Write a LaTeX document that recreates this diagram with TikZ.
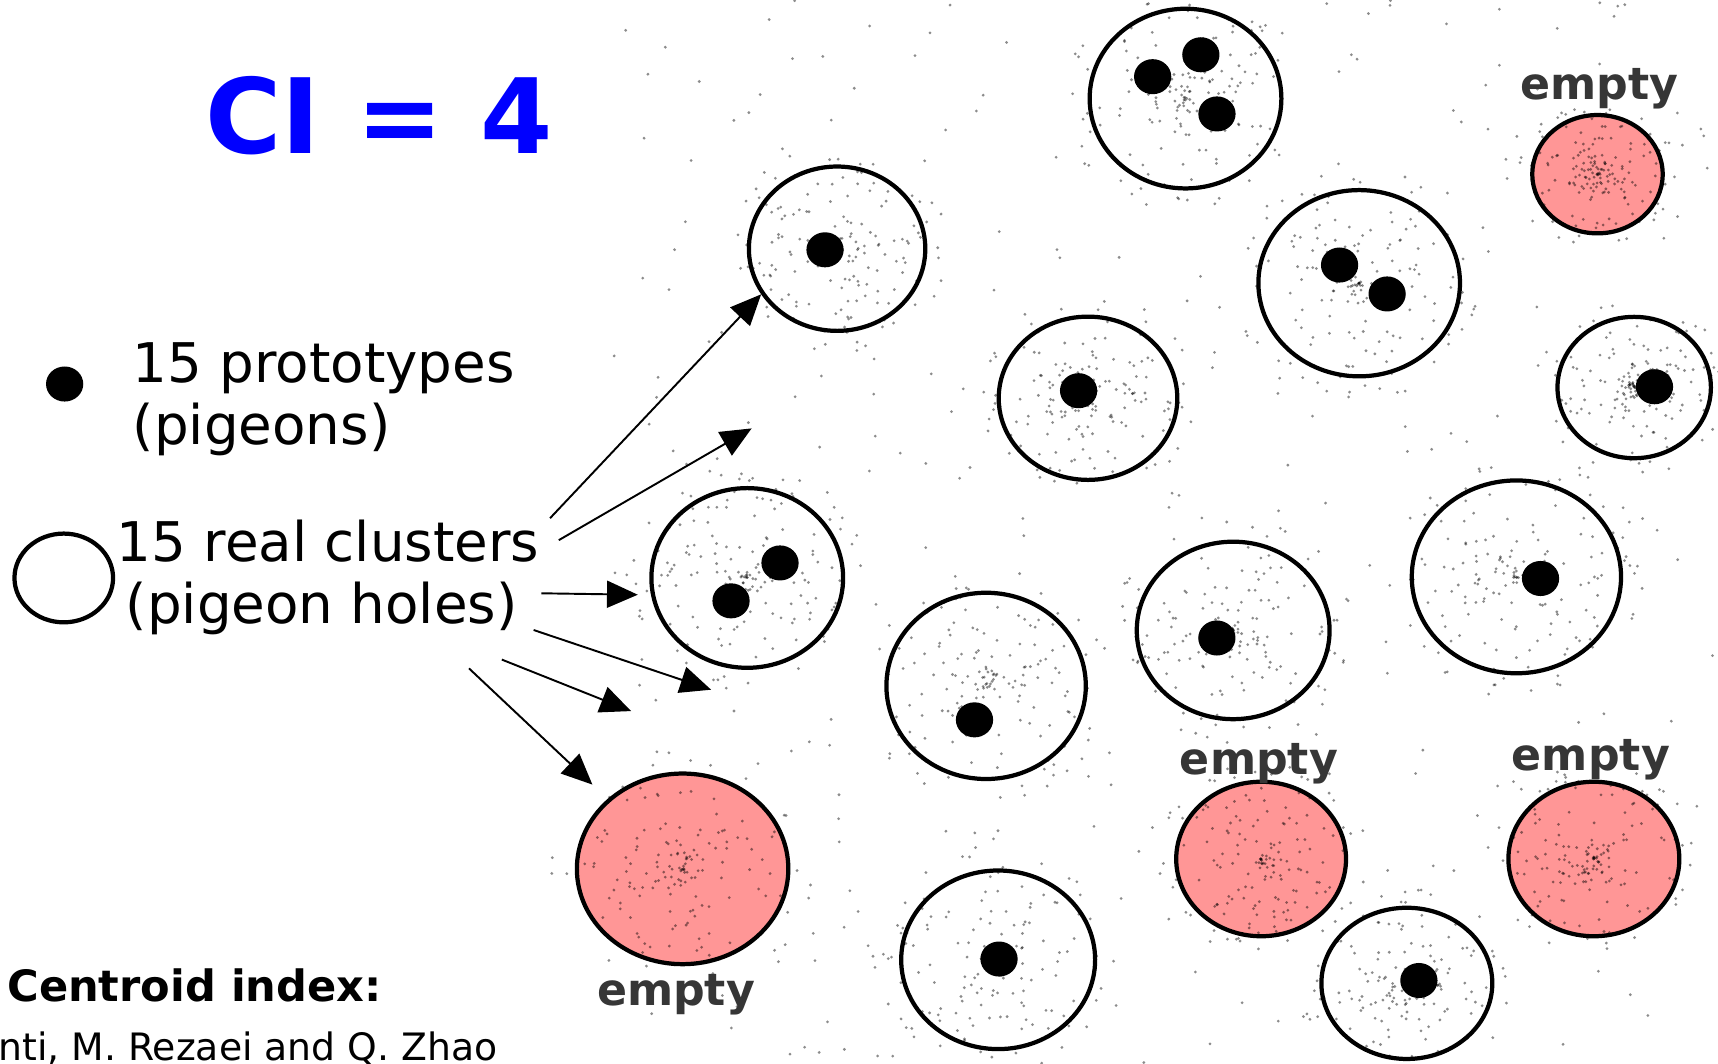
\documentclass[tikz,border=0pt]{standalone}
\usepackage{fontspec}
\setmainfont{DejaVu Sans}
\usetikzlibrary{shapes.geometric,positioning,calc,arrows.meta}
\definecolor{ciblue}{HTML}{0000FF}
\definecolor{emptyred}{HTML}{FF9696}
\definecolor{labelgray}{HTML}{363636}

% scatter of data points round a cluster: node, rx, ry, count
\newcommand{\specks}[4]{%
  \foreach \k in {1,...,#4}{%
    \pgfmathsetmacro{\ang}{360*rnd}%
    \pgfmathsetmacro{\rr}{1.25*rnd}%
    \fill[speck] ($(#1)+({#2*\rr*cos(\ang)},{#3*\rr*sin(\ang)})$) circle (0.4pt);
  }}

\begin{document}
\begin{tikzpicture}[
    hole/.style={ellipse, draw, line width=1.1pt, fill=white, inner sep=0pt},
    emptyhole/.style={hole, fill=emptyred},
    holesize/.style 2 args={minimum width=#1cm, minimum height=#2cm},
    pigeon/.style={ellipse, fill=black, inner sep=0pt,
                   minimum width=3.4mm, minimum height=3.2mm},
    speck/.style={fill=black, fill opacity=0.45},
    pointer/.style={-{Triangle[length=8pt,width=7pt]}, line width=0.5pt},
    legendtxt/.style={font=\fontsize{14.2}{16.2}\selectfont, align=left,
                      inner sep=0pt, anchor=base west},
    emptylbl/.style={font=\fontsize{11.5}{13}\selectfont\bfseries,
                     text=labelgray, inner sep=0pt, anchor=base},
  ]
  \path[fill=white, use as bounding box] (0,0) rectangle (15.68,-9.71);
  \pgfmathsetseed{4242}

  % loose points in the background
  \foreach \k in {1,...,380}{
    \fill[speck] ({5.6+10.08*rnd},{-9.71*rnd}) circle (0.4pt);
  }

  % title and legend
  \node[font=\fontsize{27}{30}\selectfont\bfseries, text=ciblue,
        inner sep=0pt, anchor=base west] (ci) at (1.87,-1.405) {CI = 4};
  \node[pigeon] (keypigeon) at (0.59,-3.505) {};
  \node[legendtxt] (protolbl) at (1.205,-4.06) {15 prototypes\\(pigeons)};
  \node[hole, holesize={0.90}{0.81}] (keyhole) at (0.582,-5.275) {};
  \node[legendtxt] (holeslbl) at (1.06,-5.695)
    {15 real clusters\\\hspace{2.3pt}(pigeon holes)};
  \node[font=\fontsize{11.2}{13}\selectfont\bfseries, inner sep=0pt,
        anchor=base west] (cilbl) at (0.06,-9.14) {Centroid index:};
  \node[font=\fontsize{9.8}{12}\selectfont, inner sep=0pt,
        anchor=base west] (authors) at (-0.02,-9.68) {nti, M. Rezaei and Q. Zhao};

  % real clusters
  \node[hole, holesize={1.61}{1.50}] (cA) at (7.64,-2.27) {};
  \node[hole, holesize={1.75}{1.64}] (cB) at (10.82,-0.90) {};
  \node[hole, holesize={1.84}{1.70}] (cC) at (12.405,-2.585) {};
  \node[hole, holesize={1.63}{1.49}] (cD) at (9.93,-3.635) {};
  \node[hole, holesize={1.40}{1.29}] (cE) at (14.915,-3.537) {};
  \node[hole, holesize={1.75}{1.64}] (cF) at (6.82,-5.275) {};
  \node[hole, holesize={1.91}{1.76}] (cG) at (13.84,-5.265) {};
  \node[hole, holesize={1.76}{1.62}] (cH) at (11.255,-5.754) {};
  \node[hole, holesize={1.82}{1.70}] (cI) at (9.00,-6.26) {};
  \node[hole, holesize={1.77}{1.63}] (cJ) at (9.11,-8.76) {};
  \node[hole, holesize={1.56}{1.38}] (cK) at (12.84,-8.975) {};
  \node[emptyhole, holesize={1.19}{1.08}] (eA) at (14.58,-1.59) {};
  \node[emptyhole, holesize={1.93}{1.74}] (eB) at (6.23,-7.93) {};
  \node[emptyhole, holesize={1.55}{1.41}] (eC) at (11.51,-7.84) {};
  \node[emptyhole, holesize={1.56}{1.41}] (eD) at (14.547,-7.84) {};

  \foreach \c/\rx/\ry in {cA/0.82/0.76, cB/0.88/0.82, cC/0.92/0.85,
      cD/0.82/0.75, cE/0.70/0.65, cF/0.88/0.82, cG/0.96/0.88,
      cH/0.88/0.82, cI/0.91/0.85, cJ/0.88/0.82, cK/0.78/0.70,
      eA/0.60/0.55, eB/0.97/0.88, eC/0.78/0.71, eD/0.78/0.71}{
    \specks{\c}{\rx}{\ry}{160}
  }

  % prototypes
  \node[pigeon] (pA) at (7.53,-2.28) {};
  \node[pigeon] (pB1) at (10.52,-0.70) {};
  \node[pigeon] (pB2) at (10.96,-0.50) {};
  \node[pigeon] (pB3) at (11.107,-1.04) {};
  \node[pigeon] (pC1) at (12.226,-2.419) {};
  \node[pigeon] (pC2) at (12.66,-2.683) {};
  \node[pigeon] (pD) at (9.844,-3.566) {};
  \node[pigeon] (pE) at (15.10,-3.53) {};
  \node[pigeon] (pF1) at (7.119,-5.138) {};
  \node[pigeon] (pF2) at (6.672,-5.484) {};
  \node[pigeon] (pG) at (14.06,-5.28) {};
  \node[pigeon] (pH) at (11.106,-5.823) {};
  \node[pigeon] (pI) at (8.894,-6.57) {};
  \node[pigeon] (pJ) at (9.118,-8.753) {};
  \node[pigeon] (pK) at (12.95,-8.949) {};

  % empty holes
  \node[emptylbl] (lA) at (14.60,-0.91) {empty};
  \node[emptylbl] (lB) at (6.17,-9.18) {empty};
  \node[emptylbl] (lC) at (11.49,-7.07) {empty};
  \node[emptylbl] (lD) at (14.52,-7.03) {empty};

  % arrows from the legend
  \coordinate (s1) at (5.02,-4.73);
  \coordinate (s2) at (5.10,-4.93);
  \coordinate (s3) at (4.94,-5.415);
  \coordinate (s4) at (4.87,-5.75);
  \coordinate (s5) at (4.58,-6.02);
  \coordinate (s6) at (4.28,-6.10);
  \coordinate (t2) at (6.86,-3.91);
  \coordinate (t4) at (6.49,-6.295);
  \coordinate (t5) at (5.76,-6.49);
  \draw[pointer] (s1) -- (cA.211);
  \draw[pointer] (s2) -- (t2);
  \draw[pointer, shorten >=1.2mm] (s3) -- (cF.190);
  \draw[pointer] (s4) -- (t4);
  \draw[pointer] (s5) -- (t5);
  \draw[pointer, shorten >=1.9mm] (s6) -- (eB.137);
\end{tikzpicture}
\end{document}
